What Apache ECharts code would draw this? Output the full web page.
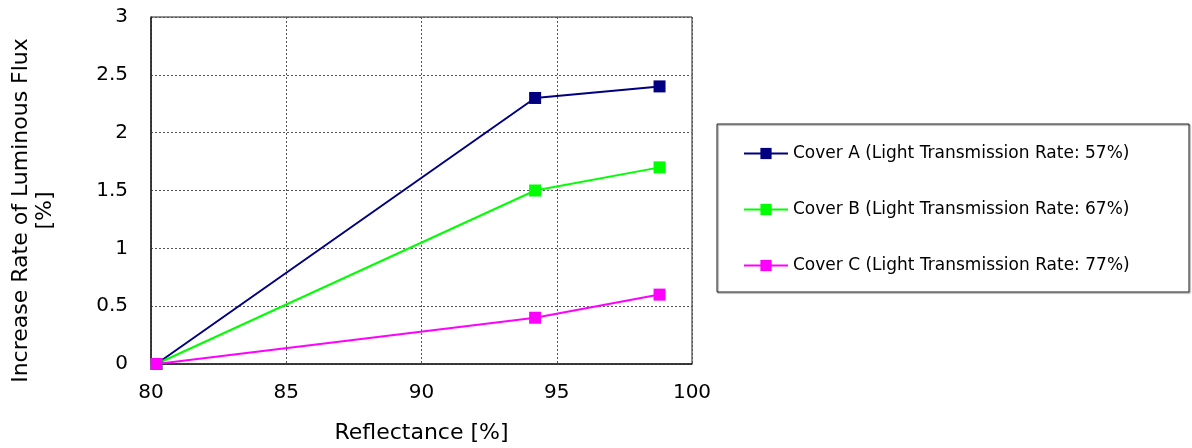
<!DOCTYPE html>
<html>
<head>
<meta charset="utf-8">
<script src="https://cdn.jsdelivr.net/npm/echarts@6/dist/echarts.min.js"></script>
<style>
html,body{margin:0;padding:0;background:#fff;}
#chart{width:1192px;height:448px;}
</style>
</head>
<body>
<div id="chart"></div>
<script>
// 数据
var reflectance = [80.2, 94.2, 98.8];
var coverA = [0, 2.3, 2.4];
var coverB = [0, 1.5, 1.7];
var coverC = [0, 0.4, 0.6];
var seriesNames = [
    'Cover A (Light Transmission Rate: 57%)',
    'Cover B (Light Transmission Rate: 67%)',
    'Cover C (Light Transmission Rate: 77%)'
];
var colors = ['#000080', '#00ff00', '#ff00ff'];

function pairs(ys){
    return reflectance.map(function(x, i){ return [x, ys[i]]; });
}

var font = '"DejaVu Sans", sans-serif';
var myChart = echarts.init(document.getElementById('chart'));

var option = {
    animation: false,
    textStyle: { fontFamily: font },
    grid: {
        left: 151, top: 17, right: 500, bottom: 84,
        outerBoundsMode: 'none',
        show: true, borderColor: '#222', borderWidth: 1
    },
    xAxis: {
        type: 'value',
        min: 80, max: 100, interval: 5,
        name: 'Reflectance [%]',
        nameLocation: 'middle',
        nameGap: 58,
        nameTextStyle: { fontSize: 22, color: '#000', fontFamily: font },
        axisLine: { lineStyle: { color: '#222', width: 1.5 } },
        axisTick: { show: false },
        axisLabel: { fontSize: 20, color: '#000', margin: 19, fontFamily: font },
        splitLine: { show: true, lineStyle: { color: '#555', type: [2, 2], width: 1 } }
    },
    yAxis: {
        type: 'value',
        min: 0, max: 3, interval: 0.5,
        name: 'Increase Rate of Luminous Flux\n[%]',
        nameLocation: 'middle',
        nameGap: 94,
        nameTextStyle: { fontSize: 22, color: '#000', lineHeight: 24, fontFamily: font,
                         padding: [0, 40, 0, 0] },
        axisLine: { show: true, lineStyle: { color: '#222', width: 1.5 } },
        axisTick: { show: false },
        axisLabel: { fontSize: 20, color: '#000', margin: 23, fontFamily: font },
        splitLine: { show: true, lineStyle: { color: '#555', type: [2, 2], width: 1 } }
    },
    legend: {
        orient: 'vertical',
        left: 738, top: 140,
        itemWidth: 44, itemHeight: 14,
        itemGap: 39,
        textStyle: { fontSize: 17, color: '#000', fontFamily: font },
        data: seriesNames
    },
    graphic: [{
        type: 'rect',
        shape: { x: 717, y: 124, width: 472, height: 168 },
        style: { fill: 'none', stroke: '#222', lineWidth: 1,
                 shadowColor: 'rgba(0,0,0,0.5)', shadowOffsetX: 1, shadowOffsetY: 1, shadowBlur: 1 },
        z: -1
    }],
    series: [coverA, coverB, coverC].map(function(d, i){
        return {
            name: seriesNames[i],
            type: 'line',
            data: pairs(d),
            symbol: 'rect',
            symbolSize: 12,
            lineStyle: { color: colors[i], width: 2 },
            itemStyle: { color: colors[i] }
        };
    })
};

myChart.setOption(option);
</script>
</body>
</html>
